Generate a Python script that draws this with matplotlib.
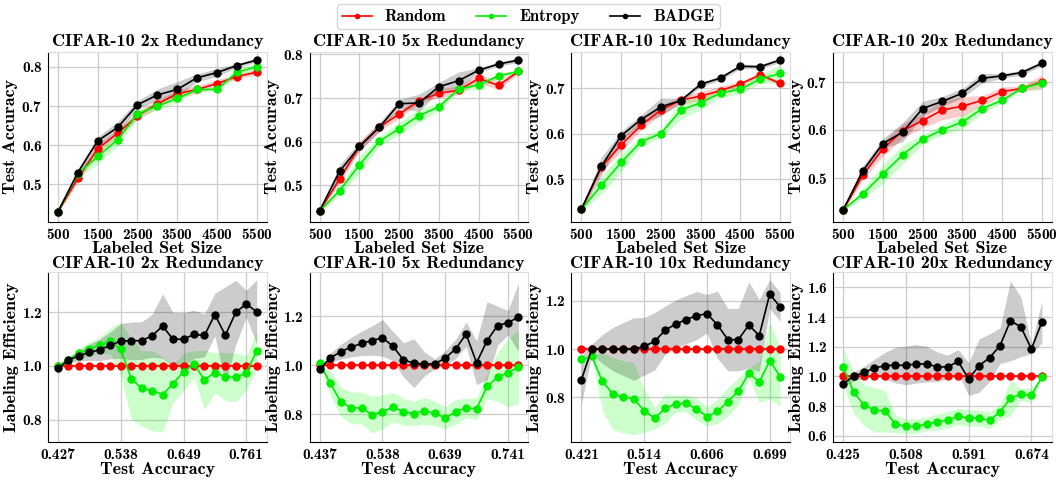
import numpy as np
import matplotlib
matplotlib.use("Agg")
import matplotlib.pyplot as plt

plt.rcParams['font.family'] = ['cmb10', 'DejaVu Serif']
plt.rcParams['axes.unicode_minus'] = False
plt.rcParams['axes.formatter.use_mathtext'] = True

titles = ['CIFAR-10 2x Redundancy', 'CIFAR-10 5x Redundancy',
          'CIFAR-10 10x Redundancy', 'CIFAR-10 20x Redundancy']
methods = ['Random', 'Entropy', 'BADGE']
colors = {'Random': '#ff0000', 'Entropy': '#00ee00', 'BADGE': '#000000'}
band_colors = {'Random': '#ff0000', 'Entropy': '#00ff00', 'BADGE': '#000000'}

# labeled set sizes (top row)
set_sizes = [500, 1000, 1500, 2000, 2500, 3000, 3500, 4000, 4500, 5000, 5500]

# test accuracy vs labeled set size, mean and std
acc_mean = {
    'Random': [
        [0.430, 0.515, 0.591, 0.630, 0.675, 0.705, 0.731, 0.742, 0.757, 0.775, 0.786],
        [0.442, 0.514, 0.589, 0.634, 0.663, 0.694, 0.711, 0.718, 0.745, 0.729, 0.761],
        [0.432, 0.525, 0.575, 0.618, 0.652, 0.674, 0.683, 0.695, 0.710, 0.730, 0.711],
        [0.433, 0.506, 0.560, 0.598, 0.619, 0.641, 0.649, 0.661, 0.679, 0.686, 0.699],
    ],
    'Entropy': [
        [0.430, 0.527, 0.571, 0.614, 0.679, 0.700, 0.719, 0.742, 0.742, 0.786, 0.800],
        [0.441, 0.488, 0.547, 0.601, 0.630, 0.660, 0.680, 0.721, 0.730, 0.751, 0.761],
        [0.432, 0.485, 0.536, 0.582, 0.600, 0.652, 0.668, 0.690, 0.698, 0.721, 0.733],
        [0.433, 0.467, 0.508, 0.548, 0.580, 0.600, 0.616, 0.644, 0.661, 0.686, 0.697],
    ],
    'BADGE': [
        [0.430, 0.530, 0.611, 0.645, 0.703, 0.728, 0.742, 0.772, 0.785, 0.803, 0.817],
        [0.442, 0.532, 0.589, 0.633, 0.687, 0.689, 0.726, 0.740, 0.764, 0.778, 0.787],
        [0.432, 0.527, 0.595, 0.631, 0.659, 0.673, 0.709, 0.723, 0.749, 0.748, 0.763],
        [0.433, 0.515, 0.571, 0.595, 0.644, 0.659, 0.676, 0.707, 0.712, 0.719, 0.738],
    ],
}
acc_std = {
    'Random': [
        [0.003, 0.010, 0.010, 0.010, 0.010, 0.010, 0.010, 0.010, 0.010, 0.005, 0.008],
        [0.003, 0.010, 0.010, 0.010, 0.010, 0.005, 0.010, 0.010, 0.010, 0.010, 0.005],
        [0.003, 0.010, 0.015, 0.010, 0.010, 0.010, 0.010, 0.010, 0.005, 0.005, 0.005],
        [0.003, 0.010, 0.015, 0.015, 0.015, 0.020, 0.020, 0.010, 0.010, 0.005, 0.015],
    ],
    'Entropy': [
        [0.003, 0.010, 0.020, 0.015, 0.010, 0.010, 0.010, 0.005, 0.005, 0.010, 0.008],
        [0.003, 0.010, 0.020, 0.010, 0.015, 0.015, 0.010, 0.005, 0.010, 0.005, 0.005],
        [0.003, 0.020, 0.020, 0.010, 0.010, 0.020, 0.015, 0.010, 0.010, 0.010, 0.020],
        [0.003, 0.010, 0.020, 0.020, 0.010, 0.010, 0.015, 0.010, 0.005, 0.005, 0.010],
    ],
    'BADGE': [
        [0.003, 0.010, 0.010, 0.015, 0.010, 0.015, 0.020, 0.010, 0.010, 0.005, 0.005],
        [0.003, 0.015, 0.010, 0.010, 0.010, 0.020, 0.010, 0.020, 0.005, 0.005, 0.005],
        [0.003, 0.020, 0.010, 0.010, 0.020, 0.005, 0.005, 0.005, 0.005, 0.005, 0.005],
        [0.003, 0.010, 0.010, 0.020, 0.015, 0.010, 0.010, 0.010, 0.005, 0.005, 0.005],
    ],
}

# test accuracy levels (bottom row x axis)
eff_acc = [
    [0.4266, 0.4452, 0.4637, 0.4823, 0.5008, 0.5194, 0.5379, 0.5565, 0.5750, 0.5936,
     0.6122, 0.6307, 0.6493, 0.6678, 0.6864, 0.7049, 0.7235, 0.7420, 0.7606, 0.7792],
    [0.4370, 0.4539, 0.4708, 0.4877, 0.5046, 0.5214, 0.5383, 0.5552, 0.5721, 0.5890,
     0.6059, 0.6228, 0.6397, 0.6566, 0.6734, 0.6903, 0.7072, 0.7241, 0.7410, 0.7579],
    [0.4210, 0.4364, 0.4519, 0.4673, 0.4828, 0.4982, 0.5137, 0.5291, 0.5446, 0.5600,
     0.5754, 0.5909, 0.6063, 0.6218, 0.6372, 0.6527, 0.6681, 0.6836, 0.6990, 0.7144],
    [0.4250, 0.4388, 0.4527, 0.4665, 0.4803, 0.4942, 0.5080, 0.5218, 0.5357, 0.5495,
     0.5633, 0.5772, 0.5910, 0.6048, 0.6187, 0.6325, 0.6463, 0.6602, 0.6740, 0.6878],
]
eff_ticklabels = [
    ['0.427', '0.538', '0.649', '0.761'],
    ['0.437', '0.538', '0.639', '0.741'],
    ['0.421', '0.514', '0.606', '0.699'],
    ['0.425', '0.508', '0.591', '0.674'],
]

# labeling efficiency relative to Random
eff_mean = {
    'Random': [[1.0] * 20 for _ in range(4)],
    'Entropy': [
        [1.000, 1.022, 1.046, 1.063, 1.077, 1.093, 1.062, 0.952, 0.916, 0.908,
         0.893, 0.934, 0.978, 1.006, 0.948, 0.975, 0.960, 0.957, 0.974, 1.057],
        [1.007, 0.926, 0.851, 0.825, 0.825, 0.797, 0.809, 0.828, 0.810, 0.802,
         0.813, 0.803, 0.784, 0.809, 0.824, 0.822, 0.913, 0.951, 0.969, 0.993],
        [0.957, 0.969, 0.865, 0.814, 0.801, 0.793, 0.743, 0.712, 0.753, 0.772,
         0.774, 0.750, 0.719, 0.740, 0.781, 0.824, 0.899, 0.863, 0.951, 0.885],
        [1.065, 0.894, 0.807, 0.773, 0.766, 0.679, 0.663, 0.663, 0.681, 0.692,
         0.706, 0.730, 0.719, 0.719, 0.703, 0.760, 0.854, 0.879, 0.874, 0.996],
    ],
    'BADGE': [
        [0.991, 1.022, 1.037, 1.050, 1.060, 1.076, 1.093, 1.093, 1.094, 1.112,
         1.148, 1.099, 1.099, 1.117, 1.113, 1.191, 1.114, 1.199, 1.231, 1.201],
        [0.984, 1.029, 1.055, 1.074, 1.089, 1.101, 1.112, 1.078, 1.022, 1.008,
         1.005, 1.005, 1.029, 1.067, 1.127, 1.010, 1.100, 1.162, 1.174, 1.197],
        [0.872, 1.000, 1.000, 1.000, 1.000, 1.000, 1.011, 1.032, 1.078, 1.104,
         1.122, 1.139, 1.147, 1.101, 1.039, 1.039, 1.100, 1.056, 1.229, 1.175],
        [0.951, 1.000, 1.027, 1.056, 1.072, 1.076, 1.074, 1.085, 1.083, 1.065,
         1.063, 1.101, 0.982, 1.072, 1.126, 1.207, 1.375, 1.333, 1.184, 1.366],
    ],
}
eff_std = {
    'Random': [[0.006] * 20, [0.006] * 20, [0.01] * 20, [0.008] * 20],
    'Entropy': [
        [0.005, 0.010, 0.020, 0.025, 0.030, 0.050, 0.100, 0.150, 0.140, 0.150,
         0.140, 0.070, 0.070, 0.050, 0.110, 0.075, 0.090, 0.090, 0.065, 0.070],
        [0.005, 0.050, 0.060, 0.065, 0.065, 0.075, 0.070, 0.060, 0.055, 0.050,
         0.055, 0.050, 0.045, 0.050, 0.040, 0.045, 0.050, 0.100, 0.140, 0.150],
        [0.005, 0.005, 0.120, 0.150, 0.150, 0.150, 0.090, 0.045, 0.060, 0.035,
         0.035, 0.045, 0.040, 0.050, 0.060, 0.055, 0.020, 0.085, 0.160, 0.120],
        [0.130, 0.140, 0.140, 0.150, 0.140, 0.060, 0.050, 0.050, 0.045, 0.055,
         0.055, 0.055, 0.055, 0.055, 0.055, 0.050, 0.120, 0.040, 0.050, 0.005],
    ],
    'BADGE': [
        [0.005, 0.010, 0.020, 0.030, 0.040, 0.050, 0.065, 0.070, 0.070, 0.080,
         0.120, 0.100, 0.100, 0.090, 0.080, 0.080, 0.180, 0.120, 0.050, 0.120],
        [0.005, 0.020, 0.030, 0.040, 0.050, 0.060, 0.075, 0.060, 0.070, 0.100,
         0.050, 0.020, 0.030, 0.040, 0.050, 0.090, 0.160, 0.080, 0.050, 0.140],
        [0.100, 0.020, 0.060, 0.090, 0.110, 0.130, 0.120, 0.120, 0.100, 0.100,
         0.100, 0.100, 0.080, 0.140, 0.130, 0.130, 0.180, 0.150, 0.060, 0.060],
        [0.020, 0.030, 0.040, 0.060, 0.090, 0.120, 0.130, 0.130, 0.120, 0.100,
         0.080, 0.080, 0.110, 0.180, 0.160, 0.120, 0.270, 0.200, 0.030, 0.140],
    ],
}

top_ylims = [(0.405, 0.838), (0.417, 0.806), (0.405, 0.781), (0.409, 0.762)]
top_yticks = [[0.5, 0.6, 0.7, 0.8], [0.5, 0.6, 0.7, 0.8], [0.5, 0.6, 0.7], [0.5, 0.6, 0.7]]
bot_ylims = [(0.716, 1.348), (0.685, 1.380), (0.6125, 1.319), (0.557, 1.701)]
bot_yticks = [[0.8, 1.0, 1.2], [0.8, 1.0, 1.2], [0.8, 1.0, 1.2], [0.6, 0.8, 1.0, 1.2, 1.4, 1.6]]


def style_axes(ax):
    ax.grid(True, color='#cccccc', linewidth=0.9)
    ax.set_axisbelow(True)
    for s in ['top', 'right']:
        ax.spines[s].set_color('#dddddd')
    for s in ['left', 'bottom']:
        ax.spines[s].set_color('black')
    ax.tick_params(length=0, labelsize=11, pad=4)


fig, axes = plt.subplots(2, 4, figsize=(10.56, 4.8), dpi=100)
fig.subplots_adjust(left=0.0455, right=0.996, top=0.892, bottom=0.079,
                    wspace=0.197, hspace=0.30)

for i in range(4):
    ax = axes[0, i]
    for m in methods:
        mu = np.array(acc_mean[m][i])
        sd = np.array(acc_std[m][i])
        ax.fill_between(set_sizes, mu - sd, mu + sd, color=band_colors[m],
                        alpha=0.2, linewidth=0)
        ax.plot(set_sizes, mu, color=colors[m], marker='o', markersize=5,
                linewidth=1.2, label=m)
    style_axes(ax)
    ax.set_xticks([500, 1500, 2500, 3500, 4500, 5500])
    ax.set_yticks(top_yticks[i])
    ax.set_ylim(top_ylims[i])
    ax.set_title(titles[i], fontsize=13, pad=4)
    ax.set_xlabel('Labeled Set Size', fontsize=13, labelpad=-1)
    ax.set_ylabel('Test Accuracy', fontsize=13, labelpad=2)

    ax = axes[1, i]
    x = eff_acc[i]
    for m in methods:
        mu = np.array(eff_mean[m][i])
        sd = np.array(eff_std[m][i])
        ax.fill_between(x, mu - sd, mu + sd, color=band_colors[m],
                        alpha=0.2, linewidth=0)
        ax.plot(x, mu, color=colors[m], marker='o', markersize=5,
                linewidth=1.2, label=m)
    style_axes(ax)
    ax.set_xticks([x[0], x[6], x[12], x[18]])
    ax.set_xticklabels(eff_ticklabels[i])
    ax.set_yticks(bot_yticks[i])
    ax.set_ylim(bot_ylims[i])
    ax.set_title(titles[i], fontsize=13, pad=3)
    ax.set_xlabel('Test Accuracy', fontsize=13, labelpad=0)
    ax.set_ylabel('Labeling Efficiency', fontsize=13, labelpad=2)

handles, labels = axes[0, 0].get_legend_handles_labels()
fig.legend(handles, labels, loc='upper center', ncol=3, fontsize=12,
           bbox_to_anchor=(0.5, 1.008), frameon=True, fancybox=True,
           edgecolor='#cccccc', markerscale=0.6, handlelength=1.8,
           columnspacing=1.8, borderpad=0.3)

fig.savefig('out.png', dpi=100)
